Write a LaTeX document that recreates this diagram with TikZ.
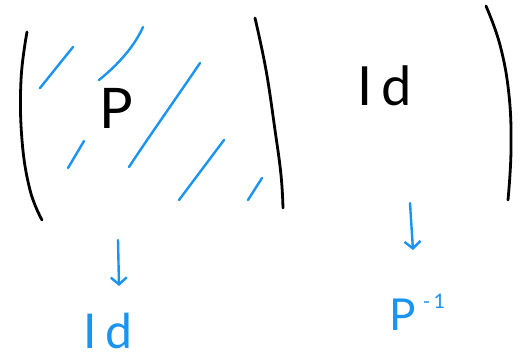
\documentclass[tikz,border=0pt]{standalone}
\usepackage{fontspec}
\setmainfont{Lato}
\usetikzlibrary{arrows.meta}
\definecolor{penblue}{HTML}{1A94F0}
\tikzset{
  ink/.style={line width=2.8pt, line cap=round, line join=round, black},
  hatch/.style={line width=2.4pt, line cap=round, penblue},
  bluearrow/.style={line width=2.4pt, line cap=round, line join=round, penblue, -{Straight Barb[length=7pt,width=16pt,line width=2.4pt]}},
  blacktext/.style={text=black, inner sep=0pt},
  bluetext/.style={text=penblue, inner sep=0pt}
}
\begin{document}
\begin{tikzpicture}[x=1pt,y=-1pt]
\useasboundingbox (0,0) rectangle (525,360);
% brackets
\draw[ink] plot[smooth, tension=0.7] coordinates {(27,32) (21,80) (22,140) (30,190) (42,220)};
\draw[ink] plot[smooth, tension=0.7] coordinates {(255,18) (266,70) (275,130) (281,175) (283,208)};
\draw[ink] plot[smooth, tension=0.7] coordinates {(486,6) (500,45) (509,95) (511,150) (508,200)};
% hatching
\draw[hatch] (40,88) -- (73,47);
\draw[hatch] (99,80) .. controls (120,63) and (135,45) .. (143,27);
\draw[hatch] (68,168) -- (84,141);
\draw[hatch] (129,167) .. controls (150,135) and (175,100) .. (200,63);
\draw[hatch] (179,200) -- (224,140);
\draw[hatch] (248,200) -- (262,178);
% labels inside
\node[blacktext, font=\fontsize{56}{56}\selectfont] (P) at (116,108) {P};
\node[blacktext, font=\fontsize{54}{54}\selectfont] (Id) at (385,86) {I\,d};
% bottom labels
\node[bluetext, font=\fontsize{48}{48}\selectfont] (Idb) at (108,331) {I\,d};
\node[bluetext, font=\fontsize{44}{44}\selectfont, anchor=base west] (Pinv) at (389,330) {P\,\raisebox{22pt}{\fontsize{20}{20}\selectfont -\,1}};
% arrows
\coordinate (a1) at (118,240);
\coordinate (a1e) at (119,286);
\coordinate (a2) at (410,203);
\coordinate (a2e) at (413,250);
\draw[bluearrow] (a1) -- (a1e);
\draw[bluearrow] (a2) -- (a2e);
\end{tikzpicture}
\end{document}
